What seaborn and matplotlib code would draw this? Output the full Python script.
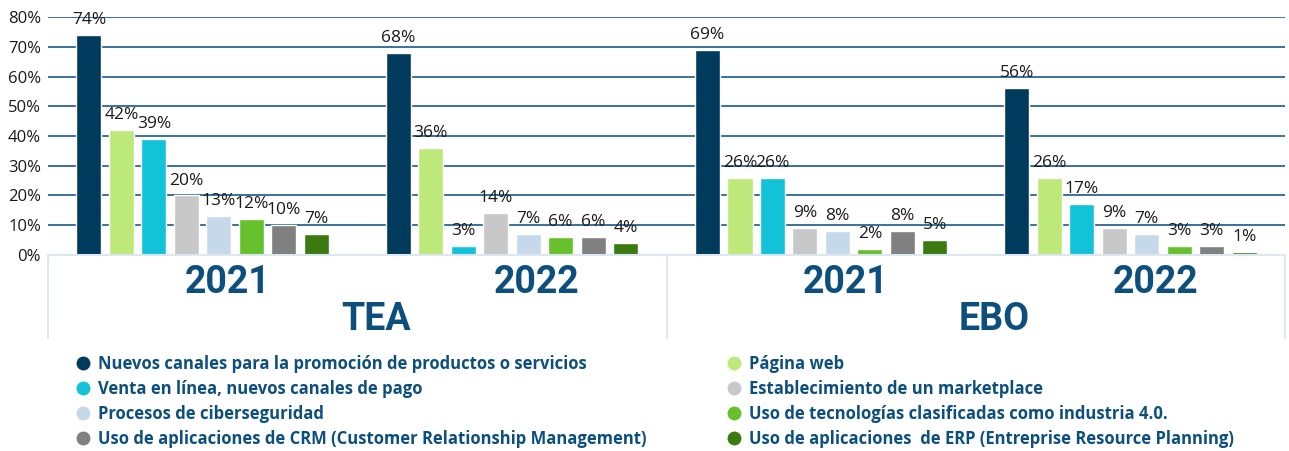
import pandas as pd
import seaborn as sns
import matplotlib.pyplot as plt
from matplotlib.lines import Line2D
from matplotlib.transforms import blended_transform_factory

# Data
groups = ["TEA 2021", "TEA 2022", "EBO 2021", "EBO 2022"]
year_labels = ["2021", "2022", "2021", "2022"]
panel_labels = ["TEA", "EBO"]

series = [
    "Nuevos canales para la promoción de productos o servicios",
    "Página web",
    "Venta en línea, nuevos canales de pago",
    "Establecimiento de un marketplace",
    "Procesos de ciberseguridad",
    "Uso de tecnologías clasificadas como industria 4.0.",
    "Uso de aplicaciones de CRM (Customer Relationship Management)",
    "Uso de aplicaciones  de ERP (Entreprise Resource Planning)",
]
colors = ["#003a5d", "#bde87a", "#12c2d8", "#c8c8c8",
          "#c5d9ea", "#66c12c", "#808080", "#3b7a10"]

tea_2021 = [74, 42, 39, 20, 13, 12, 10, 7]
tea_2022 = [68, 36, 3, 14, 7, 6, 6, 4]
ebo_2021 = [69, 26, 26, 9, 8, 2, 8, 5]
ebo_2022 = [56, 26, 17, 9, 7, 3, 3, 1]

yticks = [0, 10, 20, 30, 40, 50, 60, 70, 80]

# order of the legend entries (left column, then right column)
legend_left = [0, 2, 4, 6]
legend_right = [1, 3, 5, 7]

TEXT_BLUE = "#0d4f7c"
GRID_BLUE = "#2a6794"
BOX_LINE = "#dde7f1"
LABEL_FONT = ["Open Sans", "DejaVu Sans"]

rows = []
for g, vals in zip(groups, [tea_2021, tea_2022, ebo_2021, ebo_2022]):
    for s, v in zip(series, vals):
        rows.append({"grupo": g, "serie": s, "valor": v})
df = pd.DataFrame(rows)

sns.set_theme(style="white")
plt.rcParams["font.family"] = ["Roboto", "DejaVu Sans"]

fig = plt.figure(figsize=(12.89, 4.51), dpi=100)
ax = fig.add_axes([0.0372, 0.4346, 0.9598, 0.5277])

sns.barplot(data=df, x="grupo", y="valor", hue="serie", order=groups,
            hue_order=series, palette=colors, width=0.84, gap=0.23,
            legend=False, ax=ax, saturation=1)

for cont in ax.containers:
    ax.bar_label(cont, fmt="{:.0f}%", padding=5, fontsize=12.5,
                 color="#1a1a1a", family=LABEL_FONT)

ax.set_xlim(-0.5, 3.5)
ax.set_ylim(0, 80)
ax.set_yticks(yticks)
ax.set_yticklabels([f"{t}%" for t in yticks], fontsize=12, color="#1a1a1a",
                   family=LABEL_FONT)
ax.tick_params(axis="y", length=0, pad=5)
ax.set_xticks([])
ax.set_xlabel("")
ax.set_ylabel("")
for sp in ax.spines.values():
    sp.set_visible(False)

ax.set_axisbelow(True)
for t in yticks[1:]:
    ax.axhline(t, color=GRID_BLUE, lw=1.3, zorder=0)

# frame under the bars
box_kw = dict(transform=ax.transAxes, clip_on=False, color=BOX_LINE, lw=1.5)
ax.plot([0, 1], [0, 0], **box_kw)
ax.plot([0, 0], [0, -0.35], **box_kw)
ax.plot([1, 1], [0, -0.35], **box_kw)
ax.plot([0.5, 0.5], [0, -0.35], **box_kw)

trans = blended_transform_factory(ax.transData, ax.transAxes)
for i, yl in enumerate(year_labels):
    ax.text(i + 0.08, -0.115, yl, transform=trans, ha="center", va="center",
            fontsize=27, fontweight="bold", color=TEXT_BLUE)
for i, pl in enumerate(panel_labels):
    ax.text(2 * i + 0.56, -0.27, pl, transform=trans, ha="center",
            va="center", fontsize=27, fontweight="bold", color=TEXT_BLUE)

# legend in two columns
def make_handles(idx):
    return [Line2D([0], [0], marker="o", linestyle="", markersize=9,
                   markerfacecolor=colors[i], markeredgecolor=colors[i])
            for i in idx]

leg_kw = dict(loc="upper left", frameon=False, borderaxespad=0,
              handletextpad=0.4, labelspacing=0.42, handlelength=1.0,
              prop={"size": 12, "weight": "bold", "family": LABEL_FONT},
              labelcolor=TEXT_BLUE)
fig.legend(make_handles(legend_left), [series[i] for i in legend_left],
           bbox_to_anchor=(0.053, 0.228), **leg_kw)
fig.legend(make_handles(legend_right), [series[i] for i in legend_right],
           bbox_to_anchor=(0.558, 0.228), **leg_kw)

fig.savefig("out.png", dpi=100)
